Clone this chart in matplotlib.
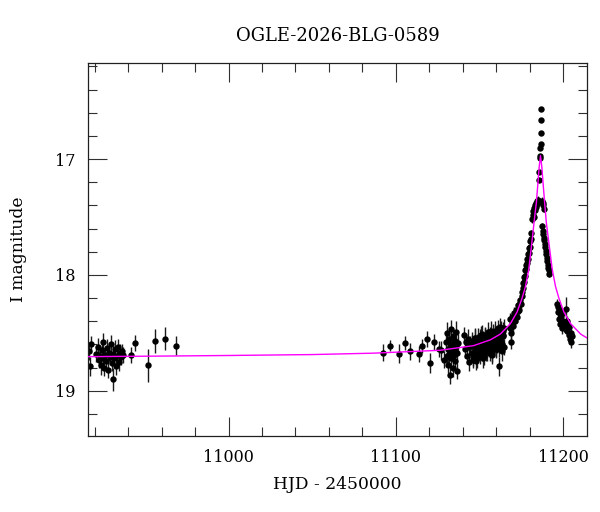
import numpy as np
import matplotlib
matplotlib.use("Agg")
import matplotlib.pyplot as plt
from matplotlib.ticker import MultipleLocator

plt.rcParams['font.family'] = ['DejaVu Serif']

title = "OGLE-2026-BLG-0589"
xlabel = "HJD - 2450000"
ylabel = "I magnitude"

# --- data (HJD-2450000, I mag, error) ---
tA = [10916.6, 10917.2, 10917.8, 10921.0, 10921.8, 10922.5, 10923.0, 10923.6, 10924.1, 10924.7,
      10925.2, 10925.8, 10926.3, 10926.9, 10927.4, 10928.0, 10928.5, 10929.1, 10929.6, 10930.2,
      10930.7, 10931.2, 10931.8, 10932.3, 10932.9, 10933.4, 10934.0, 10934.6, 10935.1, 10935.7,
      10936.3, 10937.0]
mA = [18.66, 18.79, 18.60, 18.68, 18.62, 18.73, 18.70, 18.78, 18.65, 18.72,
      18.58, 18.80, 18.69, 18.74, 18.63, 18.82, 18.67, 18.71, 18.60, 18.76,
      18.68, 18.90, 18.72, 18.64, 18.79, 18.70, 18.62, 18.75, 18.67, 18.71,
      18.66, 18.69]
eA = [0.07, 0.08, 0.07, 0.07, 0.08, 0.07, 0.06, 0.08, 0.07, 0.07,
      0.08, 0.07, 0.06, 0.07, 0.08, 0.07, 0.07, 0.06, 0.08, 0.07,
      0.07, 0.10, 0.07, 0.08, 0.07, 0.06, 0.07, 0.08, 0.07, 0.07,
      0.06, 0.07]

tB = [10942.0, 10944.2, 10951.8, 10956.1, 10962.1, 10968.6]
mB = [18.69, 18.59, 18.78, 18.57, 18.55, 18.61]
eB = [0.07, 0.07, 0.14, 0.10, 0.10, 0.08]

tC = [11092.4, 11096.8, 11101.8, 11105.8, 11108.7, 11113.7, 11115.9, 11118.6, 11120.6, 11122.8,
      11125.8, 11127.2, 11129.0]
mC = [18.67, 18.61, 18.68, 18.59, 18.66, 18.68, 18.61, 18.55, 18.76, 18.58,
      18.64, 18.65, 18.73]
eC = [0.07, 0.05, 0.08, 0.06, 0.07, 0.07, 0.06, 0.07, 0.09, 0.07,
      0.07, 0.08, 0.07]

tD = [11130.2, 11130.5, 11130.8, 11131.1, 11131.4, 11131.7, 11132.0, 11132.3, 11132.6, 11132.9,
      11133.2, 11133.5, 11133.8, 11134.1, 11134.4, 11134.7, 11135.0, 11135.3, 11135.6, 11135.9,
      11136.2, 11136.5, 11136.8, 11137.1]
mD = [18.58, 18.70, 18.50, 18.64, 18.78, 18.55, 18.68, 18.62, 18.86, 18.47,
      18.72, 18.60, 18.66, 18.53, 18.80, 18.63, 18.69, 18.57, 18.74, 18.61,
      18.49, 18.67, 18.83, 18.59]
eD = [0.08, 0.07, 0.09, 0.08, 0.07, 0.08, 0.09, 0.07, 0.08, 0.08,
      0.07, 0.09, 0.08, 0.07, 0.08, 0.09, 0.07, 0.08, 0.08, 0.07,
      0.09, 0.08, 0.07, 0.08]

tE = [11141.0, 11141.5, 11142.0, 11142.5, 11143.0, 11143.5, 11144.0, 11144.5]
mE = [18.52, 18.64, 18.58, 18.70, 18.55, 18.62, 18.75, 18.60]
eE = [0.07, 0.08, 0.07, 0.07, 0.08, 0.07, 0.08, 0.07]

tF = [11145.4, 11145.8, 11146.2, 11146.6, 11147.0, 11147.4, 11147.8, 11148.2, 11148.6, 11149.0,
      11149.4, 11149.8, 11150.2, 11150.6, 11151.0, 11151.4, 11151.8, 11152.2, 11152.6, 11153.0,
      11153.4, 11153.8, 11154.2, 11154.6, 11155.0, 11155.4, 11155.8, 11156.2, 11156.6, 11157.0,
      11157.4, 11157.8, 11158.2, 11158.6, 11159.0, 11159.4, 11159.8, 11160.2, 11160.6, 11161.0,
      11161.4, 11161.8, 11162.2, 11162.6, 11163.0, 11163.4, 11163.8, 11164.2, 11164.6, 11161.9]
mF = [18.67, 18.57, 18.73, 18.61, 18.68, 18.54, 18.63, 18.74, 18.58, 18.67,
      18.54, 18.63, 18.70, 18.55, 18.60, 18.67, 18.51, 18.63, 18.58, 18.70,
      18.53, 18.61, 18.66, 18.55, 18.63, 18.49, 18.58, 18.67, 18.53, 18.62,
      18.54, 18.69, 18.49, 18.57, 18.59, 18.50, 18.64, 18.53, 18.60, 18.46,
      18.57, 18.64, 18.50, 18.58, 18.47, 18.60, 18.52, 18.48, 18.62, 18.79]
eF = [0.07, 0.08, 0.07, 0.07, 0.08, 0.07, 0.07, 0.08, 0.07, 0.07,
      0.08, 0.07, 0.07, 0.08, 0.07, 0.07, 0.08, 0.07, 0.07, 0.08,
      0.07, 0.07, 0.08, 0.07, 0.07, 0.08, 0.07, 0.07, 0.08, 0.07,
      0.07, 0.08, 0.07, 0.07, 0.08, 0.07, 0.07, 0.08, 0.07, 0.07,
      0.08, 0.07, 0.07, 0.08, 0.07, 0.07, 0.08, 0.07, 0.07, 0.08]

tF2 = [11145.6, 11146.4, 11147.2, 11148.0, 11148.8, 11149.6, 11150.4, 11151.2, 11152.0, 11152.8,
       11153.6, 11154.4, 11155.2, 11156.0, 11156.8, 11157.6, 11158.4, 11159.2, 11160.0, 11160.8,
       11161.6, 11162.4, 11163.2, 11164.0, 11164.8]
mF2 = [18.60, 18.71, 18.54, 18.66, 18.72, 18.58, 18.66, 18.52, 18.72, 18.60,
       18.53, 18.66, 18.55, 18.63, 18.48, 18.67, 18.58, 18.48, 18.64, 18.52,
       18.59, 18.45, 18.66, 18.53, 18.46]
eF2 = [0.08, 0.08, 0.08, 0.08, 0.08, 0.08, 0.08, 0.08, 0.08, 0.08,
       0.08, 0.08, 0.08, 0.08, 0.08, 0.08, 0.08, 0.08, 0.08, 0.08,
       0.08, 0.08, 0.08, 0.08, 0.08]

tG = [11168.0, 11168.4, 11168.8, 11169.0, 11169.2, 11169.6, 11170.0, 11170.4, 11170.8, 11171.2,
      11171.6, 11172.0, 11172.4, 11172.8, 11173.2, 11173.6, 11174.0, 11174.4, 11174.8, 11175.2,
      11175.6]
mG = [18.46, 18.38, 18.50, 18.58, 18.42, 18.36, 18.44, 18.39, 18.33, 18.40,
      18.35, 18.30, 18.36, 18.31, 18.26, 18.30, 18.24, 18.22, 18.25, 18.18,
      18.15]
eG = [0.05, 0.05, 0.05, 0.06, 0.05, 0.05, 0.05, 0.05, 0.05, 0.05,
      0.05, 0.05, 0.05, 0.04, 0.05, 0.04, 0.04, 0.05, 0.04, 0.04,
      0.04]

tH = [11176.0, 11176.3, 11176.6, 11176.9, 11177.2, 11177.5, 11177.8, 11178.1, 11178.4, 11178.7,
      11179.0, 11179.3, 11179.6, 11179.9, 11180.2, 11180.5, 11180.8, 11181.1]
mH = [18.11, 18.07, 18.06, 18.02, 18.01, 17.96, 17.95, 17.91, 17.90, 17.86,
      17.86, 17.82, 17.81, 17.77, 17.76, 17.71, 17.69, 17.64]
eH = [0.04, 0.04, 0.03, 0.04, 0.03, 0.03, 0.03, 0.03, 0.03, 0.03,
      0.03, 0.03, 0.03, 0.03, 0.03, 0.03, 0.03, 0.03]

tI = [11181.6, 11181.9, 11182.2, 11182.5, 11182.8, 11183.1, 11183.4, 11183.7, 11184.0, 11184.3,
      11184.6, 11184.9, 11185.2, 11187.6, 11187.9, 11188.2, 11188.5]
mI = [17.52, 17.48, 17.45, 17.50, 17.42, 17.40, 17.44, 17.38, 17.41, 17.36,
      17.39, 17.35, 17.37, 17.36, 17.40, 17.38, 17.43]
eI = [0.03, 0.03, 0.03, 0.03, 0.03, 0.03, 0.03, 0.03, 0.03, 0.03,
      0.03, 0.03, 0.03, 0.03, 0.03, 0.03, 0.03]

tJ = [11185.4, 11185.7, 11186.0, 11186.2, 11186.4, 11186.55, 11186.7, 11186.85, 11187.0]
mJ = [17.18, 17.11, 16.99, 16.97, 16.90, 16.87, 16.77, 16.66, 16.57]
eJ = [0.02, 0.02, 0.015, 0.015, 0.015, 0.015, 0.015, 0.015, 0.015]

tK = [11187.5, 11187.8, 11188.1, 11188.4, 11188.7, 11189.0, 11189.3, 11189.6, 11189.9, 11190.2,
      11190.5, 11190.8, 11191.1, 11191.4, 11191.7]
mK = [17.58, 17.62, 17.65, 17.68, 17.70, 17.73, 17.76, 17.79, 17.82, 17.85,
      17.88, 17.91, 17.94, 17.96, 17.99]
eK = [0.03, 0.03, 0.03, 0.03, 0.03, 0.03, 0.03, 0.03, 0.03, 0.03,
      0.03, 0.03, 0.03, 0.03, 0.03]

tL = [11196.4, 11196.8, 11197.2, 11197.6, 11198.0, 11198.4, 11198.8, 11199.2, 11199.6, 11200.0,
      11200.4, 11201.8, 11202.2, 11202.6, 11203.0, 11203.4, 11203.8, 11204.2, 11204.6, 11205.0,
      11205.4]
mL = [18.25, 18.32, 18.28, 18.38, 18.30, 18.42, 18.35, 18.46, 18.33, 18.40,
      18.44, 18.29, 18.40, 18.48, 18.43, 18.52, 18.45, 18.55, 18.50, 18.58,
      18.53]
eL = [0.04, 0.05, 0.04, 0.05, 0.04, 0.05, 0.04, 0.05, 0.04, 0.05,
      0.05, 0.10, 0.05, 0.05, 0.05, 0.05, 0.05, 0.05, 0.05, 0.05,
      0.05]

# model curve points
model_t = [10916, 10960, 11000, 11050, 11086.5, 11126.5, 11146.5, 11156.5, 11162.5, 11168.5,
           11172.5, 11175.5, 11177.5, 11179.5, 11181.5, 11183.0, 11184.0, 11185.0, 11185.7,
           11186.5, 11187.3, 11188.0, 11189.0, 11190.0, 11191.5, 11193.5, 11195.5, 11197.5,
           11200.5, 11204.5, 11210.5, 11215]
model_m = [18.705, 18.700, 18.695, 18.687, 18.675, 18.650, 18.610, 18.560, 18.510, 18.420,
           18.320, 18.200, 18.100, 17.950, 17.700, 17.500, 17.380, 17.200, 17.070,
           16.970, 17.070, 17.200, 17.380, 17.550, 17.720, 17.950, 18.100, 18.200,
           18.320, 18.420, 18.510, 18.550]

t = np.concatenate([tA, tB, tC, tD, tE, tF, tF2, tG, tH, tI, tJ, tK, tL])
m = np.concatenate([mA, mB, mC, mD, mE, mF, mF2, mG, mH, mI, mJ, mK, mL])
e = np.concatenate([eA, eB, eC, eD, eE, eF, eF2, eG, eH, eI, eJ, eK, eL])

fig = plt.figure(figsize=(6.0, 5.12), dpi=100)
ax = fig.add_axes([88/600, 1-436/512, (587-88)/600, (436-63)/512])

ax.errorbar(t, m, yerr=e, fmt='o', color='black', ms=4.6, mew=0,
            ecolor='#1a1a1a', elinewidth=1.0, capsize=3.0, capthick=1.0, zorder=2)
ax.plot(model_t, model_m, color='#ff00ff', lw=1.0, zorder=3)

ax.set_xlim(10916, 11214.3)
ax.set_ylim(19.39, 16.17)

ax.xaxis.set_major_locator(MultipleLocator(100))
ax.xaxis.set_minor_locator(MultipleLocator(20))
ax.yaxis.set_major_locator(MultipleLocator(1))
ax.yaxis.set_minor_locator(MultipleLocator(0.2))
ax.tick_params(which='both', direction='in', top=True, right=True, width=0.8, color='#303030')
ax.tick_params(which='major', length=13.5, labelsize=11.5, pad=9)
ax.tick_params(which='minor', length=6.5)
for s in ax.spines.values():
    s.set_linewidth(0.9)
    s.set_color('#202020')

ax.set_xlabel(xlabel, fontsize=12.3)
ax.set_ylabel(ylabel, fontsize=12.3)
ax.xaxis.set_label_coords(0.5, -0.108)
ax.xaxis.label.set_va('top')
ax.yaxis.set_label_coords(-0.122, 0.5)
ax.set_title(title, fontsize=13, pad=16)

fig.savefig('out.png', dpi=100)
